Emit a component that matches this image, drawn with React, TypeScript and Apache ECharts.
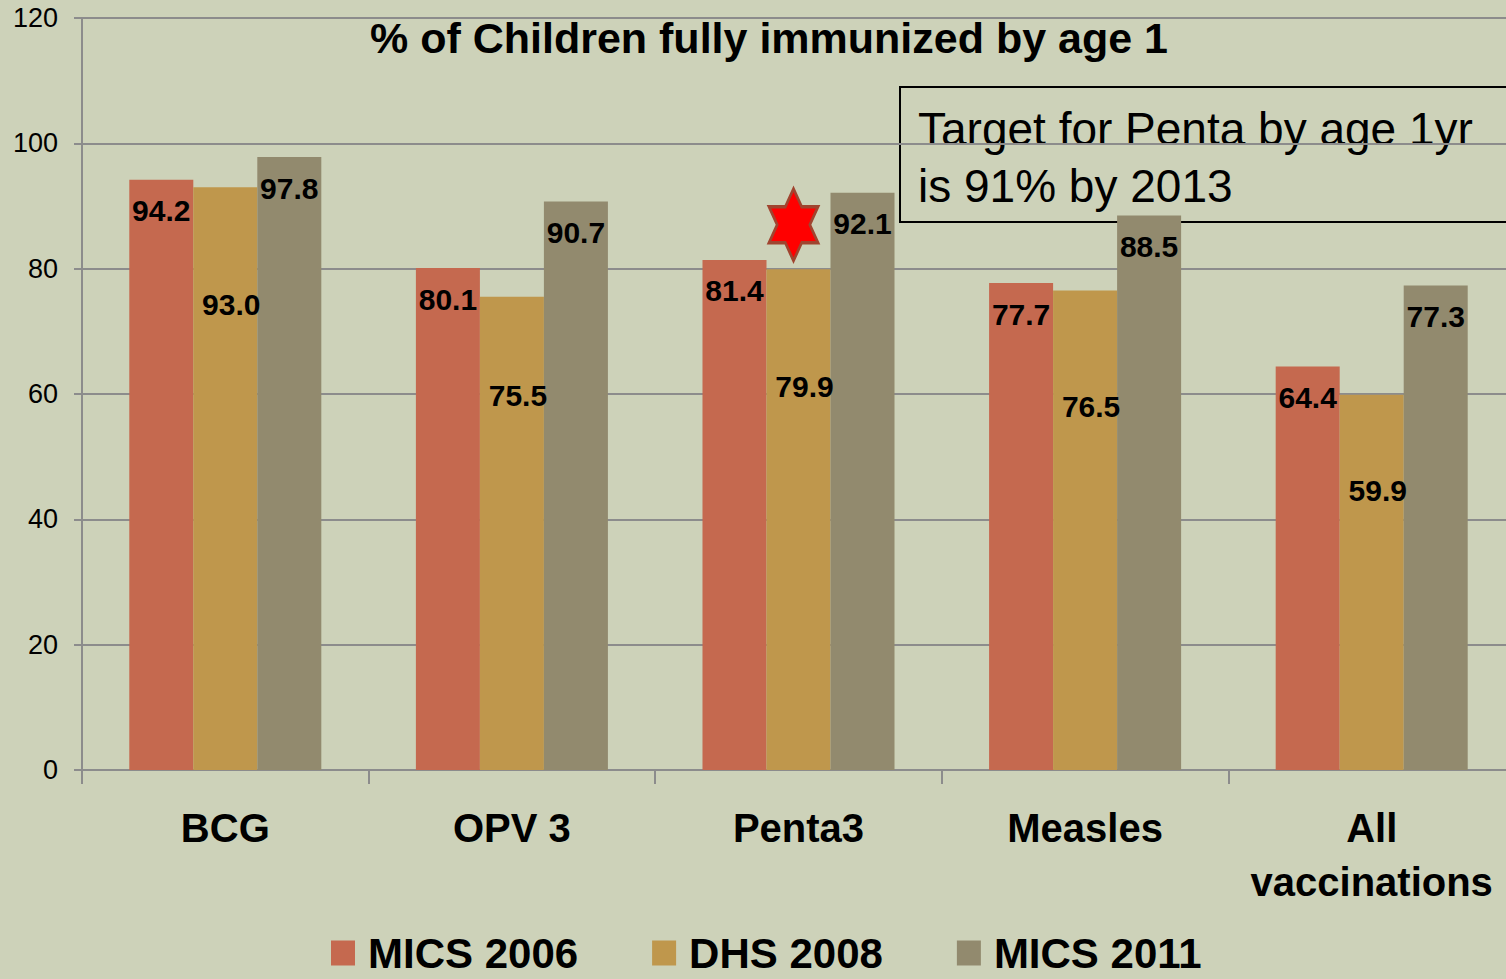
import React, { useEffect, useRef } from "react";
import * as echarts from "echarts";

const categories = ["BCG", "OPV 3", "Penta3", "Measles", "All\nvaccinations"];
const seriesNames = ["MICS 2006", "DHS 2008", "MICS 2011"];
const mics2006 = [94.2, 80.1, 81.4, 77.7, 64.4];
const dhs2008 = [93.0, 75.5, 79.9, 76.5, 59.9];
const mics2011 = [97.8, 90.7, 92.1, 88.5, 77.3];
const starMark = { category: "Penta3", value: 87 };
const titleText = "% of Children fully immunized by age 1";
const noteLines = ["Target for Penta by age 1yr", "is 91% by 2013"];

const FONT = "'Liberation Sans', Arial, sans-serif";
const colors = ["#C5694F", "#BF974C", "#928A6E"];
const goldLabelDist = [102, 84, 102, 101, 81];

const hexagram =
  "path://M50,0 L64.43,25 L93.3,25 L78.87,50 L93.3,75 L64.43,75 L50,100 L35.57,75 L6.7,75 L21.13,50 L6.7,25 L35.57,25 Z";

export default function App() {
  const ref = useRef<HTMLDivElement>(null);
  useEffect(() => {
    document.body.style.margin = "0";
    const chart = echarts.init(ref.current!, undefined, { renderer: "svg" });
    const labelBase = {
      show: true,
      position: "insideTop",
      distance: 16,
      color: "#000",
      fontSize: 30,
      fontWeight: "bold",
      fontFamily: FONT,
      formatter: (p: any) => Number(p.value).toFixed(1),
    };
    chart.setOption({
      animation: false,
      backgroundColor: "#CDD2B9",
      color: colors,
      grid: { left: 82, top: 18, right: 0, bottom: 209, containLabel: false },
      graphic: [
        {
          type: "text",
          x: 769,
          y: 38,
          style: {
            text: titleText,
            fontSize: 43,
            fontWeight: "bold",
            fontFamily: FONT,
            fill: "#000",
            align: "center",
            verticalAlign: "middle",
          },
        },
        {
          type: "rect",
          shape: { x: 900, y: 87, width: 640, height: 135 },
          style: { fill: "none", stroke: "#000", lineWidth: 2 },
        },
        {
          type: "text",
          x: 918,
          y: 100,
          style: {
            text: noteLines.join("\n"),
            fontSize: 46,
            lineHeight: 57,
            fontFamily: FONT,
            fill: "#000",
            align: "left",
            verticalAlign: "top",
          },
        },
      ],
      legend: {
        data: seriesNames,
        left: 331,
        top: 932,
        padding: 0,
        icon: "rect",
        itemWidth: 24,
        itemHeight: 25,
        itemGap: 74,
        textStyle: {
          fontSize: 42,
          lineHeight: 40,
          fontWeight: "bold",
          fontFamily: FONT,
          color: "#000",
          padding: [0, 0, 0, 8],
        },
      },
      xAxis: {
        type: "category",
        data: categories,
        axisLine: { lineStyle: { color: "#8C8C8C", width: 2 } },
        axisTick: { show: true, length: 14, lineStyle: { color: "#8C8C8C", width: 2 } },
        axisLabel: {
          color: "#000",
          fontSize: 40,
          fontWeight: "bold",
          fontFamily: FONT,
          lineHeight: 54,
          margin: 31,
          interval: 0,
        },
      },
      yAxis: {
        type: "value",
        min: 0,
        max: 120,
        interval: 20,
        axisLine: { show: true, lineStyle: { color: "#8C8C8C", width: 2 } },
        axisTick: { show: true, length: 8, lineStyle: { color: "#8C8C8C", width: 2 } },
        splitLine: { lineStyle: { color: "#8C8C8C", width: 2 } },
        axisLabel: { color: "#000", fontSize: 27, fontFamily: FONT, margin: 24 },
      },
      series: [
        {
          name: seriesNames[0],
          type: "bar",
          data: mics2006,
          barGap: "0%",
          barCategoryGap: "33%",
          label: labelBase,
        },
        {
          name: seriesNames[1],
          type: "bar",
          data: dhs2008.map((v, i) => ({
            value: v,
            label: { distance: goldLabelDist[i], offset: [6, 0] },
          })),
          barGap: "0%",
          barCategoryGap: "33%",
          label: labelBase,
          markPoint: {
            symbol: hexagram,
            symbolSize: [49, 72],
            symbolKeepAspect: false,
            symbolOffset: [-5, 0],
            itemStyle: { color: "#FF0000", borderColor: "#A0442F", borderWidth: 3 },
            label: { show: false },
            data: [{ coord: [starMark.category, starMark.value] }],
          },
        },
        {
          name: seriesNames[2],
          type: "bar",
          data: mics2011,
          barGap: "0%",
          barCategoryGap: "33%",
          label: labelBase,
        },
      ],
    });
    return () => chart.dispose();
  }, []);
  return (
    <div style={{ width: 1506, height: 979, overflow: "hidden", position: "relative" }}>
      <div ref={ref} style={{ width: 1515, height: 979 }} />
    </div>
  );
}
